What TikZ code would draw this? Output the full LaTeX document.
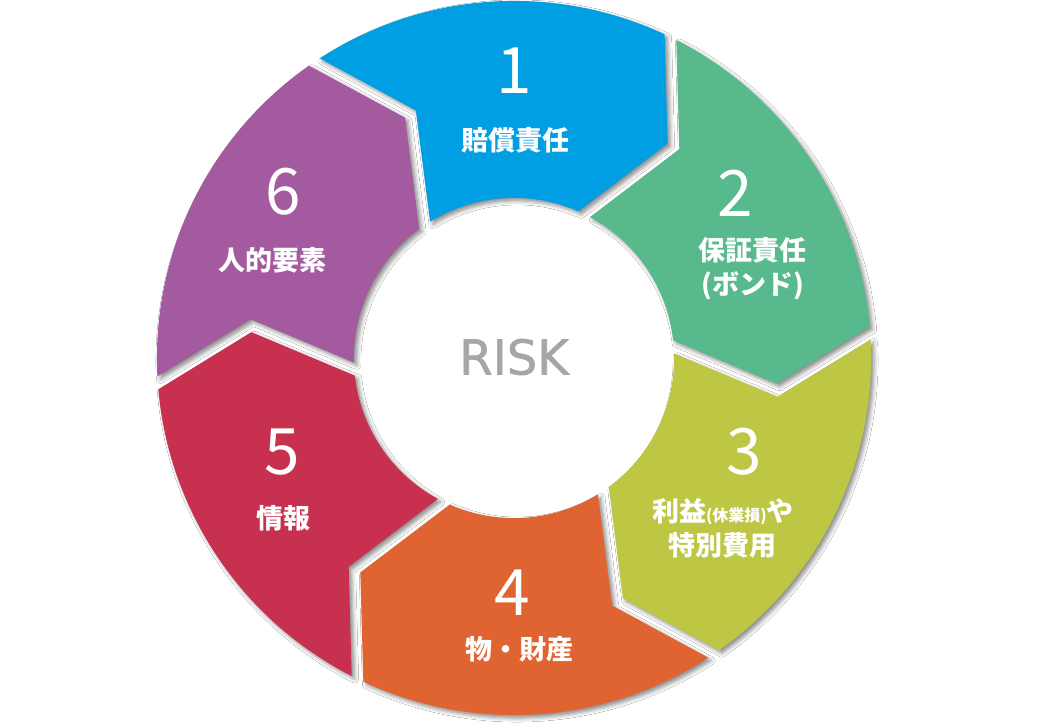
\documentclass[tikz,border=0pt]{standalone}
\usepackage{fontspec}
\setmainfont{Noto Sans CJK JP}
\newfontfamily\riskfont{DejaVu Sans}[FakeBold=1.2]
\usetikzlibrary{calc,shadows.blur}
\definecolor{c1}{HTML}{009FE3}
\definecolor{c2}{HTML}{58B98C}
\definecolor{c3}{HTML}{BDC743}
\definecolor{c4}{HTML}{DF6431}
\definecolor{c5}{HTML}{C8304F}
\definecolor{c6}{HTML}{A35A9F}
\definecolor{riskgray}{HTML}{A6A6A6}
% segment outline, #1 = angle of the trailing joint
\newcommand\segpath[1]{%
 ($(#1:357pt)+(#1-90:6.5pt)$) arc[start angle={#1-1.04}, end angle={#1-58.96}, radius=357pt]
 -- ($(#1-71:265pt)+(#1+30:6.5pt)$)
 -- ($(#1-60:160pt)+(#1+30:6.5pt)$)
 arc[start angle={#1-57.67}, end angle={#1-2.33}, radius=160pt]
 -- ($(#1-11:265pt)+(#1-90:6.5pt)$)
 -- cycle}
\tikzset{
 num/.style={text=white, font=\fontsize{64}{64}\selectfont, inner sep=0pt},
 lab/.style={text=white, font=\bfseries\fontsize{27}{34}\selectfont, align=center, inner sep=0pt},
 shad/.style={blur shadow={shadow xshift=3pt, shadow yshift=-3pt, shadow blur radius=4pt, shadow opacity=45}}
}
\begin{document}
\begin{tikzpicture}[x=1pt,y=1pt]
\useasboundingbox (-514,-367) rectangle (523,358);
\fill[white] (-514,-367) rectangle (523,358);
\foreach \k in {0,...,5} {
  \pgfmathsetmacro\T{124-60*\k}
  \path[shad] \segpath{\T};
}
\foreach \k/\c in {0/c1,1/c2,2/c3,3/c4,4/c5,5/c6} {
  \pgfmathsetmacro\T{124-60*\k}
  \fill[\c] \segpath{\T};
}
\node[num] (n1) at (0,287) {1};
\node[lab] (l1) at (2,218) {賠償責任};
\node[num] (n2) at (221,165) {2};
\node[lab] (l2) at (239,89) {保証責任\\(ボンド)};
\node[num] (n3) at (230,-94) {3};
\node[lab] (l3) at (209,-170) {利益{\fontsize{16}{16}\selectfont(休業損)}や\\特別費用};
\node[num] (n4) at (-2,-235) {4};
\node[lab] (l4) at (6,-291) {物・財産};
\node[num] (n5) at (-232,-94) {5};
\node[lab] (l5) at (-230,-160) {情報};
\node[num] (n6) at (-231,166) {6};
\node[lab] (l6) at (-241,98) {人的要素};
\node[text=riskgray, font=\riskfont\fontsize{48}{48}\selectfont, inner sep=0pt] (risk) at (0,1) {RISK};
\end{tikzpicture}
\end{document}
